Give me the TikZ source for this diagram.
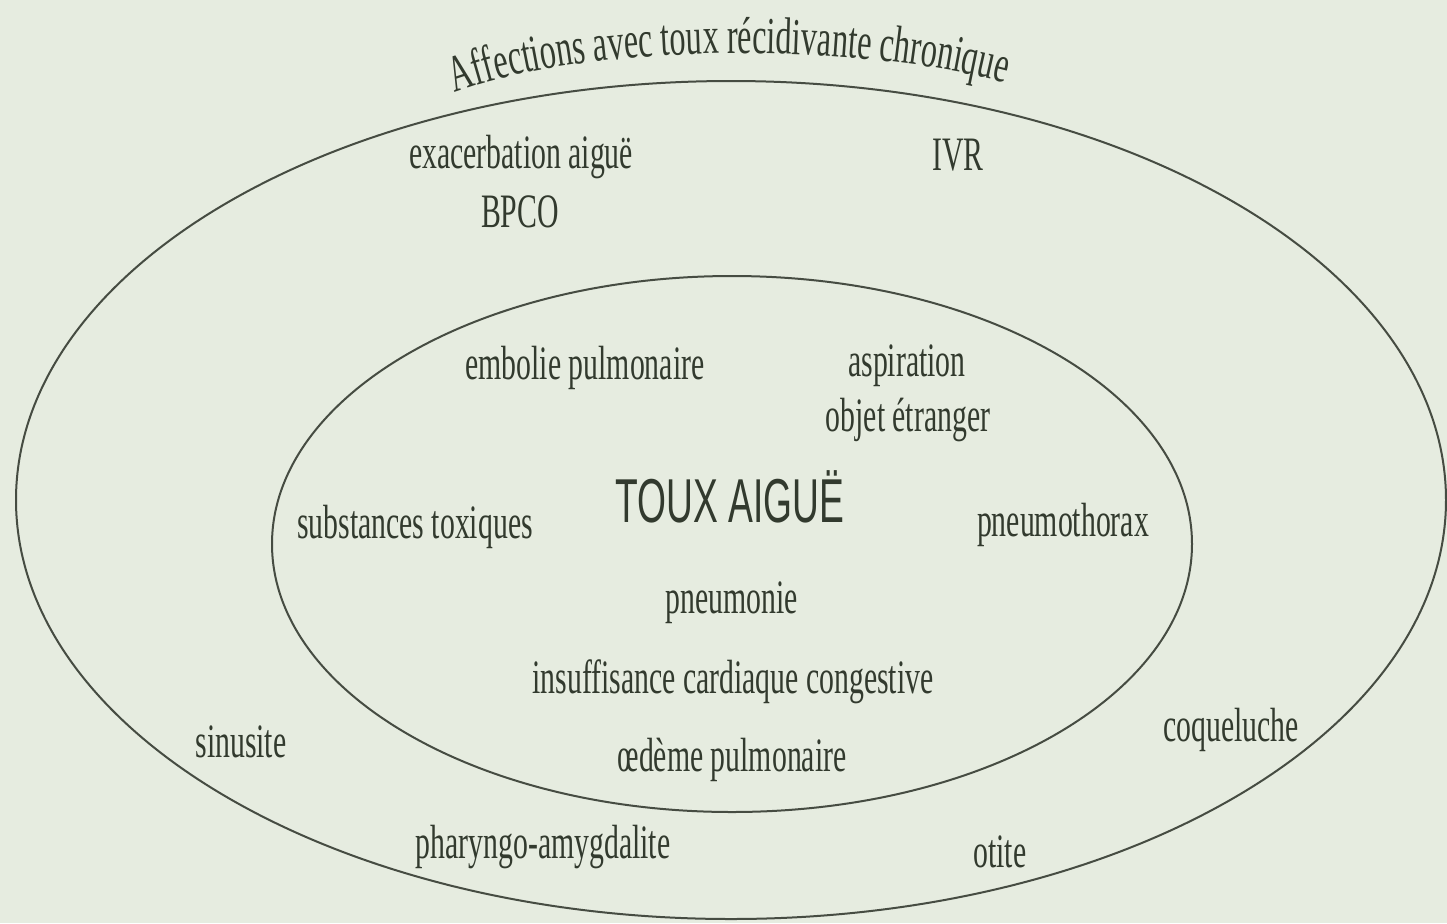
\documentclass[tikz,border=0pt]{standalone}
\usepackage{fontspec}
\setmainfont{Liberation Serif}
\newfontfamily\narrowfont[FakeStretch=0.62]{Liberation Serif}
\newfontfamily\narrowsans[FakeStretch=0.6]{Liberation Sans}
\usetikzlibrary{decorations.text}
\definecolor{paper}{RGB}{230,236,224}
\definecolor{ink}{RGB}{50,58,46}
\definecolor{rim}{RGB}{70,76,66}

\begin{document}
\begin{tikzpicture}[x=.5pt, y=-.5pt,
		cause/.style={text=ink, inner sep=0pt, font=\narrowfont\fontsize{24}{24}\selectfont},
		rimline/.style={draw=rim, line width=1pt}]
	\fill[paper] (0,0) rectangle (1447,923);
	\useasboundingbox (0,0) rectangle (1447,923);
	% the two sets
	\draw[rimline] (731,500) ellipse [x radius=715, y radius=419];
	\draw[rimline] (732,544) ellipse [x radius=460, y radius=268];
	% title along the top
	\path[decorate, decoration={text along path, text align=center,
			text={|\narrowfont\fontsize{26}{26}\selectfont\color{ink}|Affections avec toux récidivante chronique}}]
		(436,100) .. controls (570,40) and (870,40) .. (1024,88);
	\node[text=ink, inner sep=0pt, font=\narrowsans\fontsize{31}{31}\selectfont] (toux) at (730,497) {TOUX AIGUË};
	\foreach \px/\py/\txt [count=\i] in {
			521/157/exacerbation aiguë, 520/212/BPCO, 958/155/IVR,
			585/368/embolie pulmonaire, 907/366/aspiration, 908/420/objet étranger,
			415/527/substances toxiques, 1063/525/pneumothorax, 732/603/pneumonie,
			733/682/insuffisance cardiaque congestive, 732/760/œdème pulmonaire,
			241/742/sinusite, 1231/730/coqueluche, 543/847/pharyngo-amygdalite,
			1000/852/otite}{
			\node[cause] (cause\i) at (\px,\py) {\txt};
		}
\end{tikzpicture}
\end{document}
